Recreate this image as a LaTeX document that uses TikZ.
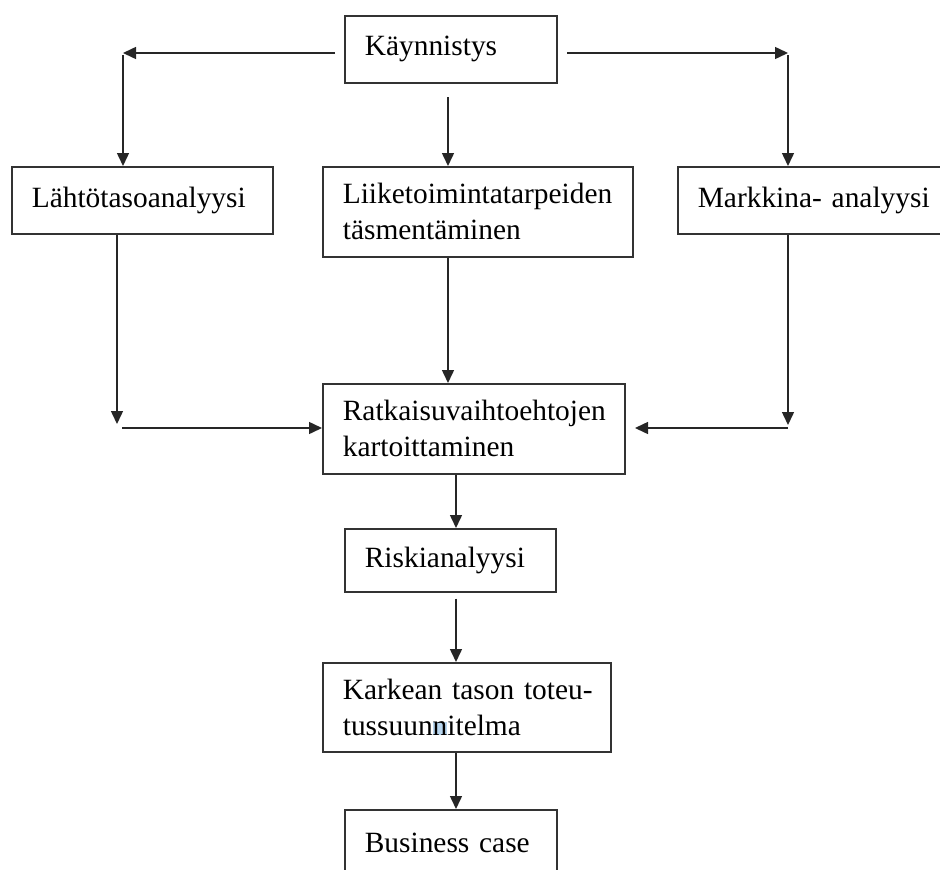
\documentclass[tikz,border=0pt]{standalone}
\usepackage{fontspec}
\setmainfont{Liberation Serif}
\usetikzlibrary{arrows.meta,positioning,calc}
\definecolor{hlblue}{RGB}{185,215,240}
\tikzset{
  box/.style={draw=black!80, line width=1.7pt, anchor=north west, align=left,
    inner xsep=20pt, inner ysep=0pt, font=\fontsize{29.4pt}{36pt}\selectfont},
  arr/.style={black!85, line width=1.5pt, -{Triangle[length=13pt,width=12pt]}},
}

\begin{document}
\begin{tikzpicture}[x=1pt,y=-1pt]
  \useasboundingbox (0,0) rectangle (940,870);
  \clip (0,0) rectangle (940,870);
  % boxes
  \node[box, text width=172pt, minimum height=67pt] (start) at (344,15) {Käynnistys};
  \node[box, text width=221pt, minimum height=67pt] (lahto) at (11,166) {Lähtötasoanalyysi};
  \node[box, text width=270pt, minimum height=90pt] (liike) at (322,166) {Liiketoimintatarpeiden\\täsmentäminen};
  \node[box, text width=250pt, minimum height=67pt] (markkina) at (677,166) {Markkina- analyysi};
  \node[box, text width=262pt, minimum height=90pt] (ratkaisu) at (322,383) {Ratkaisuvaihtoehtojen\\kartoittaminen};
  \node[box, text width=171pt, minimum height=63pt] (riski) at (344,528) {Riskianalyysi};
  \node[box, text width=248pt, minimum height=89pt] (karkea) at (322,662) {\mbox{Karkean tason toteu-}\\tussuun{\setlength{\fboxsep}{0pt}\colorbox{hlblue}{n}}itelma};
  \node[box, text width=172pt, minimum height=67pt] (business) at (344,809) {Business case};
  % free ends
  \coordinate (sl) at (335,53);
  \coordinate (lc) at (123,53);
  \coordinate (sr) at (567,53);
  \coordinate (rc) at (788,53);
  \coordinate (sm) at (448,97);
  \coordinate (ld) at (117,424);
  \coordinate (lr) at (122,428);
  \coordinate (md) at (788,425);
  \coordinate (mr) at (635,428);
  \coordinate (cx) at (456,0);
  % connectors
  \draw[arr] (sl) -- (lc);
  \draw[arr] ([yshift=-2pt]lc) -- (lahto.north -| lc);
  \draw[arr] (sr) -- (rc);
  \draw[arr] ([yshift=-2pt]rc) -- (markkina.north -| rc);
  \draw[arr] (sm) -- (liike.north -| sm);
  \draw[arr] (lahto.south -| ld) -- (ld);
  \draw[arr] (lr) -- (ratkaisu.west |- lr);
  \draw[arr] (liike.south -| sm) -- (ratkaisu.north -| sm);
  \draw[arr] (markkina.south -| md) -- (md);
  \draw[arr] (md |- lr) -- (mr);
  \draw[arr] (ratkaisu.south -| cx) -- (riski.north -| cx);
  \draw[arr] ([yshift=-6pt]riski.south -| cx) -- (karkea.north -| cx);
  \draw[arr] (karkea.south -| cx) -- (business.north -| cx);
\end{tikzpicture}
\end{document}
